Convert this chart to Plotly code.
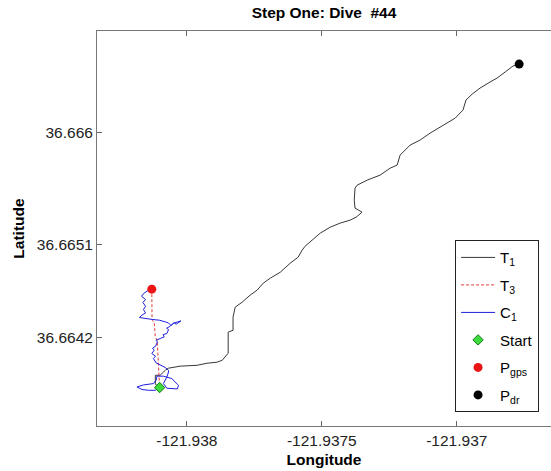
import plotly.graph_objects as go

# ---- data (longitude, latitude) ----
t1_lon = [-121.938101, -121.938117, -121.938117, -121.938099, -121.938080, -121.938069,
          -121.938025, -121.937962, -121.937925, -121.937888, -121.937869, -121.937858,
          -121.937847, -121.937847, -121.937829, -121.937829, -121.937821, -121.937795,
          -121.937766, -121.937740, -121.937717, -121.937691, -121.937654, -121.937617,
          -121.937588, -121.937573, -121.937562, -121.937536, -121.937506, -121.937469,
          -121.937432, -121.937395, -121.937373, -121.937351, -121.937366, -121.937377,
          -121.937380, -121.937377, -121.937369, -121.937332, -121.937284, -121.937247,
          -121.937221, -121.937210, -121.937173, -121.937136, -121.937099, -121.937062,
          -121.937006, -121.936977, -121.936966, -121.936943, -121.936914, -121.936877,
          -121.936851, -121.936821, -121.936792, -121.936769]
t1_lat = [36.663760, 36.663789, 36.663868, 36.663868, 36.663912, 36.663930,
          36.663948, 36.663956, 36.663974, 36.663983, 36.664000, 36.664027,
          36.664062, 36.664247, 36.664264, 36.664379, 36.664467, 36.664511,
          36.664572, 36.664616, 36.664678, 36.664722, 36.664774, 36.664854,
          36.664906, 36.664968, 36.665003, 36.665056, 36.665118, 36.665170,
          36.665206, 36.665232, 36.665258, 36.665302, 36.665320, 36.665338,
          36.665408, 36.665513, 36.665540, 36.665584, 36.665628, 36.665689,
          36.665716, 36.665804, 36.665892, 36.665936, 36.665997, 36.666050,
          36.666129, 36.666200, 36.666288, 36.666340, 36.666393, 36.666446,
          36.666481, 36.666534, 36.666587, 36.666604]

t3_lon = [-121.938130, -121.938129, -121.938121, -121.938117, -121.938110, -121.938106, -121.938101]
t3_lat = [36.664625, 36.664352, 36.664335, 36.664203, 36.664176, 36.663912, 36.663760]

c1_lon = [-121.938101, -121.938117, -121.938143, -121.938166, -121.938185, -121.938161,
          -121.938124, -121.938114, -121.938111, -121.938087, -121.938056, -121.938031,
          -121.938035, -121.938074, -121.938087, -121.938074, -121.938068, -121.938068,
          -121.938080, -121.938099, -121.938114, -121.938124, -121.938116, -121.938130,
          -121.938121, -121.938127, -121.938116, -121.938109, -121.938114, -121.938099,
          -121.938084, -121.938088, -121.938074, -121.938068, -121.938075, -121.938062,
          -121.938052, -121.938035, -121.938022, -121.938040, -121.938047, -121.938059,
          -121.938068, -121.938080, -121.938101, -121.938126, -121.938151, -121.938176,
          -121.938167, -121.938153, -121.938161, -121.938153, -121.938163, -121.938153,
          -121.938168, -121.938158, -121.938146, -121.938130]
c1_lat = [36.663760, 36.663736, 36.663736, 36.663743, 36.663765, 36.663783,
          36.663795, 36.663824, 36.663860, 36.663860, 36.663839, 36.663780,
          36.663748, 36.663754, 36.663795, 36.663853, 36.663897, 36.663912,
          36.663936, 36.663956, 36.663977, 36.664015, 36.664036, 36.664059,
          36.664088, 36.664106, 36.664124, 36.664161, 36.664176, 36.664191,
          36.664205, 36.664225, 36.664235, 36.664270, 36.664282, 36.664299,
          36.664323, 36.664337, 36.664346, 36.664317, 36.664330, 36.664306,
          36.664328, 36.664337, 36.664352, 36.664358, 36.664364, 36.664376,
          36.664396, 36.664416, 36.664446, 36.664475, 36.664508, 36.664534,
          36.664563, 36.664592, 36.664610, 36.664625]

start_pt = (-121.938101, 36.663760)
p_gps = (-121.938130, 36.664625)
p_dr = (-121.936769, 36.666604)

x_ticks = [-121.938, -121.9375, -121.937]
x_ticktext = ["-121.938", "-121.9375", "-121.937"]
y_ticks = [36.6642, 36.665021, 36.6660]
y_ticktext = ["36.6642", "36.6651", "36.666"]

FONT = "Liberation Sans, Arial, sans-serif"

fig = go.Figure()
fig.add_trace(go.Scatter(x=t1_lon, y=t1_lat, mode="lines", name="T<sub>1</sub>",
                         legendgroup="a", line=dict(color="rgb(55,55,55)", width=1)))
fig.add_trace(go.Scatter(x=t3_lon, y=t3_lat, mode="lines", name="T<sub>3</sub>",
                         legendgroup="b", line=dict(color="rgb(225,60,60)", width=1, dash="3px,2px")))
fig.add_trace(go.Scatter(x=c1_lon, y=c1_lat, mode="lines", name="C<sub>1</sub>",
                         legendgroup="c", line=dict(color="rgb(30,30,220)", width=1)))
fig.add_trace(go.Scatter(x=[start_pt[0]], y=[start_pt[1]], mode="markers", name="Start",
                         legendgroup="d",
                         marker=dict(symbol="diamond", size=8, color="rgb(60,220,60)",
                                     line=dict(color="rgb(20,120,20)", width=1))))
fig.add_trace(go.Scatter(x=[p_gps[0]], y=[p_gps[1]], mode="markers", name="P<sub>gps</sub>",
                         legendgroup="e",
                         marker=dict(symbol="circle", size=9, color="rgb(235,20,20)")))
fig.add_trace(go.Scatter(x=[p_dr[0]], y=[p_dr[1]], mode="markers", name="P<sub>dr</sub>",
                         legendgroup="f",
                         marker=dict(symbol="circle", size=9, color="black")))

fig.update_layout(
    width=551, height=471,
    margin=dict(l=97, r=0, t=31, b=45),
    paper_bgcolor="white", plot_bgcolor="white",
    font=dict(family=FONT, size=15.5, color="#222"),
    title=dict(text="Step One: Dive\u00a0 #44", x=0.5, xref="paper", xanchor="center",
               y=1 - 13 / 471, yref="container", yanchor="middle",
               font=dict(family=FONT, size=15.5, color="black", weight="bold")),
    showlegend=True,
    legend=dict(x=(455 - 96.7) / 454.3, y=(425.7 - 240) / 394.7, xanchor="left", yanchor="top",
                bgcolor="white", bordercolor="#222", borderwidth=1,
                font=dict(family=FONT, size=15, color="black"),
                tracegroupgap=5, itemwidth=34),
)
fig.update_xaxes(range=[-121.938333, -121.936651], tickvals=x_ticks, ticktext=x_ticktext,
                 ticks="inside", ticklen=5, tickcolor="#666", showline=True, linecolor="#777",
                 linewidth=1, mirror="ticks", showgrid=False, zeroline=False,
                 title=dict(text="Longitude", standoff=6,
                            font=dict(family=FONT, size=15.5, color="black", weight="bold")))
fig.update_yaxes(range=[36.663422, 36.666895], tickvals=y_ticks, ticktext=y_ticktext,
                 ticks="inside", ticklen=5, tickcolor="#666", showline=True, linecolor="#777",
                 linewidth=1, mirror=False, showgrid=False, zeroline=False,
                 title=dict(text="Latitude", standoff=8,
                            font=dict(family=FONT, size=15.5, color="black", weight="bold")))

fig.write_html("out.html", config={"displayModeBar": False},
               post_script="document.body.style.margin='0';document.body.style.overflow='hidden';")
